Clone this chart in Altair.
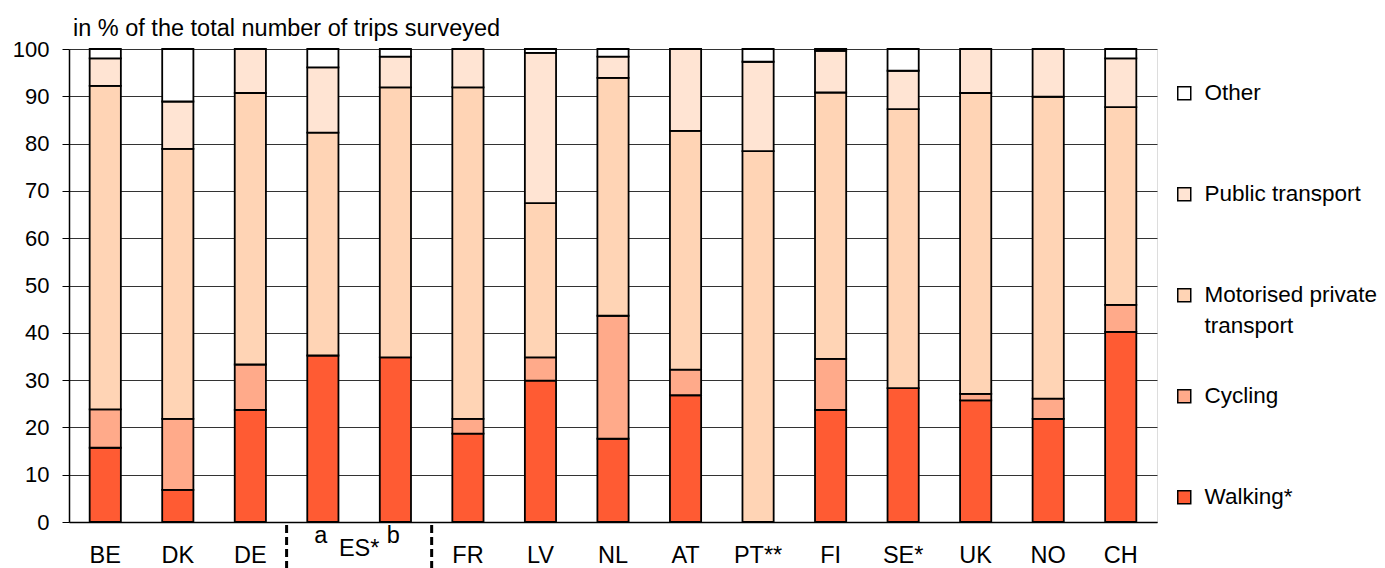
import altair as alt
import pandas as pd

countries = ["BE", "DK", "DE", "ES a", "ES b", "FR", "LV", "NL", "AT", "PT**", "FI", "SE*", "UK", "NO", "CH"]
tick_labels = ["BE", "DK", "DE", "", "", "FR", "LV", "NL", "AT", "PT**", "FI", "SE*", "UK", "NO", "CH"]
sub_labels = ["a", "b"]
sub_cats = ["ES a", "ES b"]
group_label = "ES*"

walking = [15.7, 6.8, 23.7, 35.2, 34.8, 18.7, 29.9, 17.6, 26.8, 0.0, 23.7, 28.3, 25.7, 21.8, 40.2]
cycling = [8.1, 15.0, 9.6, 0.0, 0.0, 3.1, 4.9, 26.0, 5.4, 0.0, 10.8, 0.0, 1.4, 4.3, 5.7]
motorised = [68.4, 57.1, 57.4, 47.1, 57.1, 70.1, 32.6, 50.3, 50.5, 78.4, 56.3, 59.0, 63.6, 63.8, 41.8]
public = [5.8, 10.0, 9.3, 13.8, 6.5, 8.1, 31.8, 4.5, 17.3, 18.9, 8.8, 8.1, 9.3, 10.1, 10.3]
other = [2.0, 11.1, 0.0, 3.9, 1.6, 0.0, 0.8, 1.6, 0.0, 2.7, 0.4, 4.6, 0.0, 0.0, 2.0]

modes = ["Walking*", "Cycling", "Motorised private transport", "Public transport", "Other"]
legend_order = ["Other", "Public transport", "Motorised private transport", "Cycling", "Walking*"]
colors = ["#FFFFFF", "#FFE4D3", "#FFD4B5", "#FFAA8A", "#FF5B33"]

series = [walking, cycling, motorised, public, other]
rows = []
for k, (m, vals) in enumerate(zip(modes, series)):
    for c, v in zip(countries, vals):
        if v > 0:
            rows.append({"country": c, "mode": m, "value": v, "ord": k})
df = pd.DataFrame(rows)

lab_df = pd.DataFrame({"country": countries, "label": tick_labels})
sub_df = pd.DataFrame({"country": sub_cats, "label": sub_labels})
grp_df = pd.DataFrame({"country": ["ES a"], "label": [group_label]})
sep_df = pd.DataFrame({"country": ["ES a", "FR"]})

FONT = "Liberation Sans"
FS = 23.5
W, H = 1088, 473

xscale = alt.Scale(domain=countries, paddingInner=0, paddingOuter=0)
xaxis = alt.Axis(labels=False, ticks=False, title=None, domainColor="black", domainWidth=1.5, grid=False)

label_expr = ("datum.label == 'Motorised private transport' ? ['Motorised private', 'transport'] "
              ": [datum.label, ' ']")

bars = alt.Chart(df).mark_bar(
    width=alt.RelativeBandSize(0.43), stroke="black", strokeWidth=1.8
).encode(
    x=alt.X("country:N", scale=xscale, axis=xaxis),
    y=alt.Y("value:Q", stack="zero",
            scale=alt.Scale(domain=[0, 100], nice=False),
            axis=alt.Axis(values=list(range(0, 101, 10)), title=None, labelFontSize=22,
                          labelFont=FONT, labelColor="black", tickSize=7, tickColor="black",
                          labelPadding=13, domainColor="black", domainWidth=1.5,
                          gridColor="#333333", gridWidth=1)),
    color=alt.Color("mode:N", scale=alt.Scale(domain=legend_order, range=colors),
                    legend=alt.Legend(orient="none", legendX=1104, legendY=33, title=None,
                                      symbolType="square", symbolSize=169,
                                      symbolStrokeColor="black", symbolStrokeWidth=1.5,
                                      labelFontSize=22.5, labelFont=FONT, labelColor="black",
                                      labelLimit=400, rowPadding=47, labelOffset=9,
                                      labelExpr=label_expr)),
    order=alt.Order("ord:Q", sort="ascending"),
)

labels = alt.Chart(lab_df).mark_text(fontSize=FS, font=FONT, color="black", baseline="alphabetic").encode(
    x=alt.X("country:N", scale=xscale, axis=xaxis),
    y=alt.value(H + 41),
    text="label:N",
)

subs = alt.Chart(sub_df).mark_text(fontSize=FS, font=FONT, color="black", baseline="alphabetic", dx=-2).encode(
    x=alt.X("country:N", scale=xscale, axis=xaxis),
    y=alt.value(H + 21),
    text="label:N",
)

grp = alt.Chart(grp_df).mark_text(fontSize=FS, font=FONT, color="black", baseline="alphabetic").encode(
    x=alt.X("country:N", scale=xscale, axis=xaxis, bandPosition=1),
    y=alt.value(H + 34),
    text="label:N",
)

seps = alt.Chart(sep_df).mark_rule(color="black", strokeWidth=3, strokeDash=[8, 4]).encode(
    x=alt.X("country:N", scale=xscale, axis=xaxis, bandPosition=0),
    y=alt.value(H + 3),
    y2=alt.value(H + 46),
)

chart = alt.layer(bars, labels, subs, grp, seps).properties(
    width=W, height=H,
    title=alt.TitleParams("in % of the total number of trips surveyed", anchor="start", fontSize=FS,
                          font=FONT, fontWeight="normal", color="black", dx=4, dy=14,
                          offset=12, frame="group"),
    autosize=alt.AutoSizeParams(type="none"),
    padding={"left": 61, "top": 41, "right": 220, "bottom": 46},
).configure_view(stroke="black", strokeWidth=1.5).configure(
    background="white", style={"guide-label": {"lineHeight": 31}}
)

chart.save("out.html", embed_options={"renderer": "svg", "actions": False})
